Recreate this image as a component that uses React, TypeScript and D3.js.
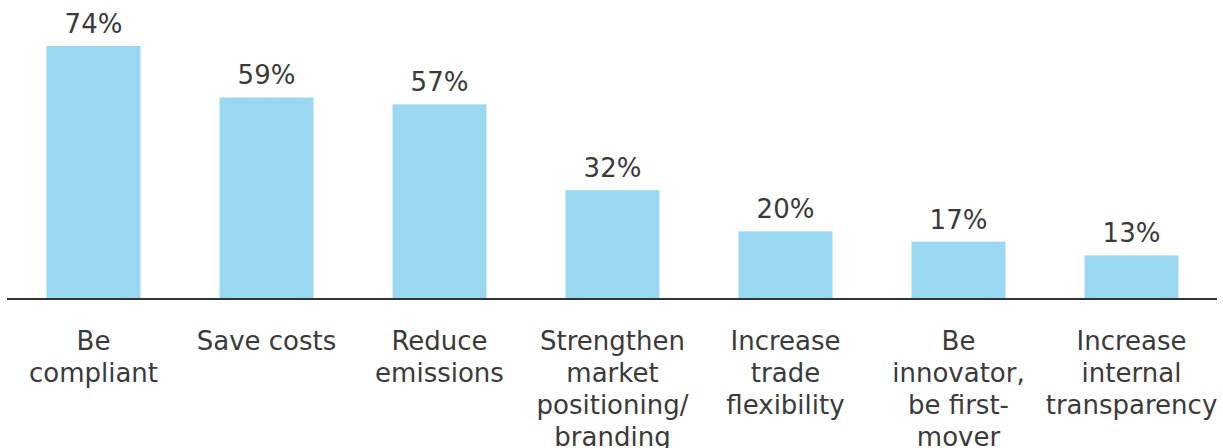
import React from "react";
import * as d3 from "d3";

const categories: string[][] = [
  ["Be", "compliant"],
  ["Save costs"],
  ["Reduce", "emissions"],
  ["Strengthen", "market", "positioning/", "branding"],
  ["Increase", "trade", "flexibility"],
  ["Be", "innovator,", "be first-", "mover"],
  ["Increase", "internal", "transparency"],
];
const values: number[] = [74, 59, 57, 32, 20, 17, 13];
const valueLabels: string[] = ["74%", "59%", "57%", "32%", "20%", "17%", "13%"];

const W = 1223;
const H = 448;
const baseY = 300;

export default function App() {
  const ids = categories.map((_, i) => String(i));
  const x = d3.scaleBand<string>().domain(ids).range([7, 1218]).paddingInner(0.457).paddingOuter(0.2285);
  const y = d3.scaleLinear().domain([0, 74]).range([baseY, 46]);
  const font = "'DejaVu Sans', Verdana, sans-serif";
  return (
    <svg width={W} height={H} style={{ position: "absolute", left: 0, top: 0 }}>
      <rect width={W} height={H} fill="#ffffff" />
      {values.map((v, i) => {
        const bx = x(String(i))!;
        const bw = x.bandwidth();
        return (
          <g key={i}>
            <rect x={bx} y={y(v)} width={bw} height={baseY - y(v)} fill="#9ad7f0" />
            <text x={bx + bw / 2} y={y(v) - 13} textAnchor="middle" fontFamily={font} fontSize={26} fill="#3a3a3a">
              {valueLabels[i]}
            </text>
            {categories[i].map((line, j) => (
              <text key={j} x={bx + bw / 2} y={350 + j * 32} textAnchor="middle" fontFamily={font} fontSize={26} fill="#3a3a3a">
                {line}
              </text>
            ))}
          </g>
        );
      })}
      <line x1={7} x2={1217} y1={299} y2={299} stroke="#333333" strokeWidth={2} />
    </svg>
  );
}
